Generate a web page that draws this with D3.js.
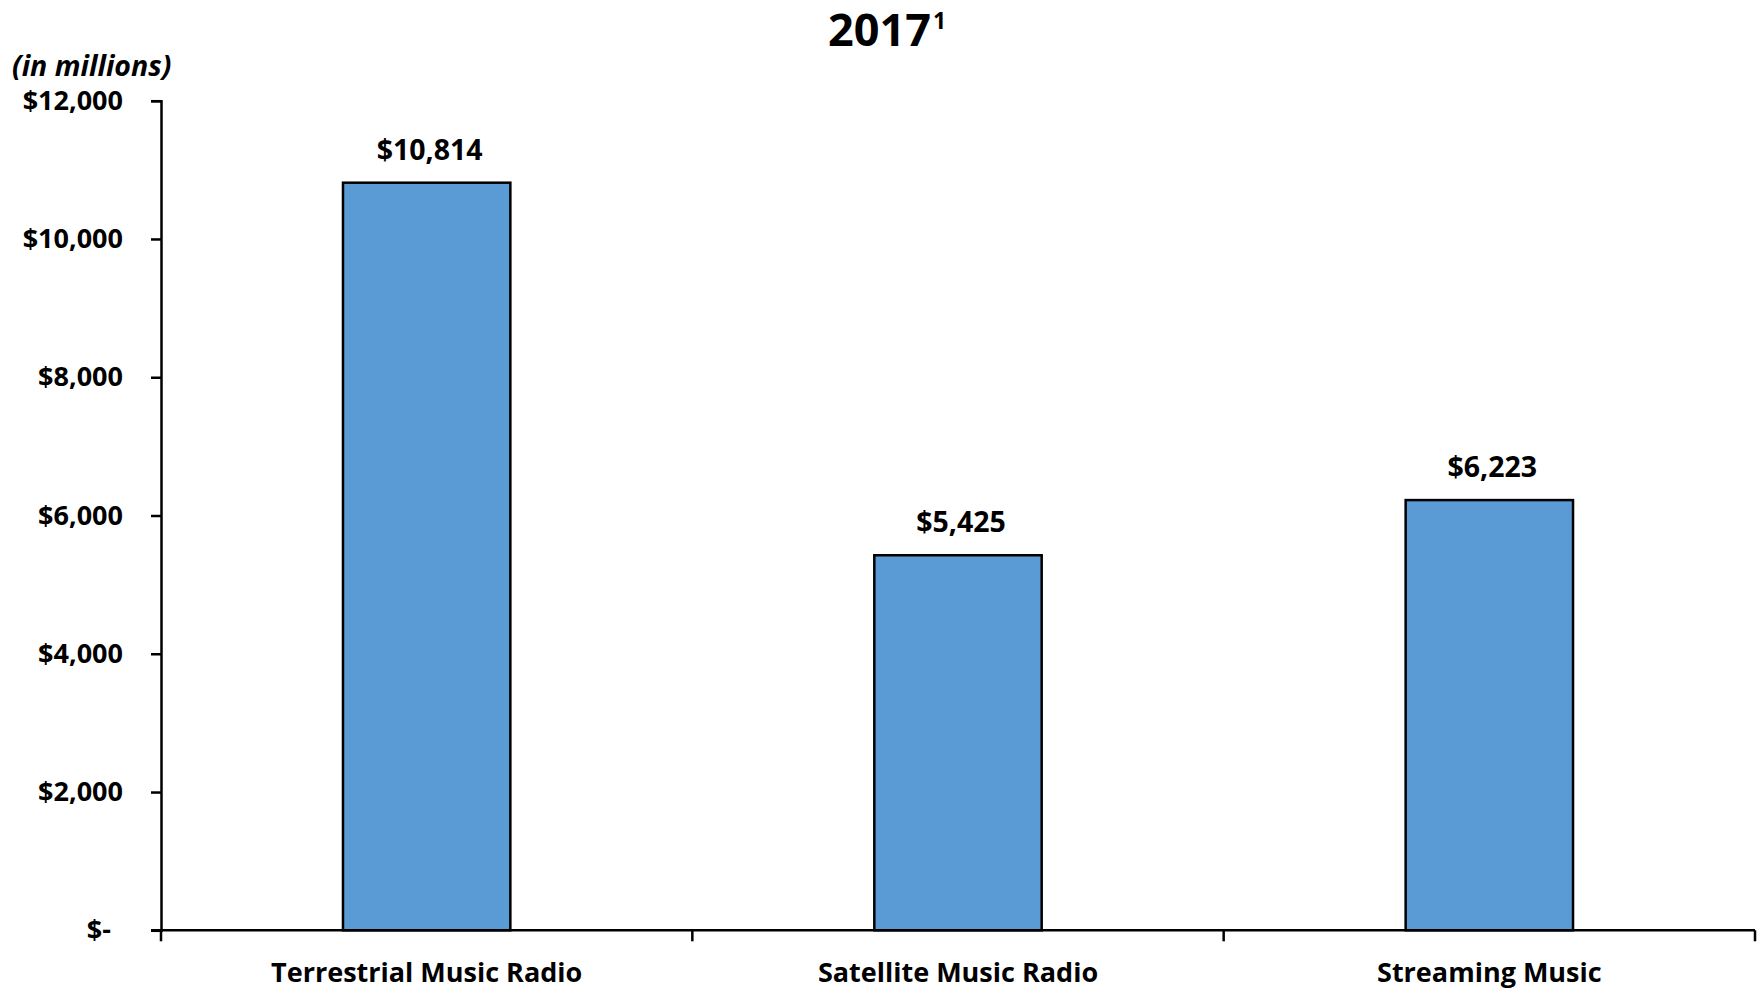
<!DOCTYPE html>
<html>
<head>
<meta charset="utf-8">
<script src="https://cdn.jsdelivr.net/npm/d3@7"></script>
<style>
  html, body { margin: 0; padding: 0; background: #fff; }
  svg { display: block; font-family: "Open Sans", "Liberation Sans", sans-serif; }
</style>
</head>
<body>
<svg id="chart" width="1758" height="990"></svg>
<script>
// Music revenue by delivery platform, in millions of dollars
const categories = ["Terrestrial Music Radio", "Satellite Music Radio", "Streaming Music"];
const revenues = [10814, 5425, 6223];
const yTicks = [0, 2000, 4000, 6000, 8000, 10000, 12000];
const titleText = "2017";
const titleNote = "1";
const unitLabel = "(in millions)";

const svg = d3.select("#chart");
const plot = { left: 161, right: 1755, top: 100.7, bottom: 930.3 };

const x = d3.scaleBand()
  .domain(categories)
  .range([plot.left, plot.right])
  .padding(0);

const y = d3.scaleLinear()
  .domain([0, 12000])
  .range([plot.bottom, plot.top]);

const barWidth = x.bandwidth() * 0.315;
const money = v => v === 0 ? "$-" : "$" + d3.format(",")(v);

// Bars
svg.append("g")
  .selectAll("rect")
  .data(revenues)
  .join("rect")
  .attr("x", (d, i) => x(categories[i]) + (x.bandwidth() - barWidth) / 2)
  .attr("y", d => y(d))
  .attr("width", barWidth)
  .attr("height", d => y(0) - y(d))
  .attr("fill", "#5B9BD5")
  .attr("stroke", "#000")
  .attr("stroke-width", 2.5);

// Value labels above the bars
svg.append("g")
  .selectAll("text")
  .data(revenues)
  .join("text")
  .attr("x", (d, i) => x(categories[i]) + x.bandwidth() / 2 + 3)
  .attr("y", d => y(d) - 23)
  .attr("text-anchor", "middle")
  .attr("font-size", 28.5)
  .attr("font-weight", 700)
  .attr("fill", "#000")
  .text(d => money(d));

// Y axis
const yAxis = d3.axisLeft(y)
  .tickValues(yTicks)
  .tickSize(10)
  .tickPadding(28)
  .tickFormat(money);

const gy = svg.append("g")
  .attr("transform", `translate(${plot.left},0)`)
  .call(yAxis);
gy.select(".domain").attr("stroke", "#000").attr("stroke-width", 2.5);
gy.selectAll(".tick line").attr("stroke", "#000").attr("stroke-width", 2.5);
gy.selectAll(".tick text")
  .attr("font-family", "'Open Sans', sans-serif")
  .attr("font-size", 27)
  .attr("font-weight", 700)
  .attr("fill", "#000")
  .attr("dx", d => d === 0 ? -12 : 0);

// X axis with ticks between categories
const xAxis = d3.axisBottom(x).tickSize(0).tickPadding(33);
const gx = svg.append("g")
  .attr("transform", `translate(0,${plot.bottom})`)
  .call(xAxis);
gx.select(".domain").remove();
gx.selectAll(".tick text")
  .attr("font-family", "'Open Sans', sans-serif")
  .attr("font-size", 27)
  .attr("font-weight", 700)
  .attr("fill", "#000");

gx.append("line")
  .attr("x1", plot.left - 10)
  .attr("x2", plot.right)
  .attr("stroke", "#000")
  .attr("stroke-width", 2.5);

const boundaries = categories.map(c => x(c)).concat([x(categories[categories.length - 1]) + x.bandwidth()]);
gx.selectAll("line.divider")
  .data(boundaries)
  .join("line")
  .attr("class", "divider")
  .attr("x1", d => d).attr("x2", d => d)
  .attr("y1", 0).attr("y2", 11)
  .attr("stroke", "#000")
  .attr("stroke-width", 2.5);

// Title with footnote marker
const title = svg.append("text")
  .attr("x", 828)
  .attr("y", 46)
  .attr("font-size", 45)
  .attr("font-weight", 700)
  .attr("fill", "#000");
title.append("tspan").text(titleText);
title.append("tspan")
  .attr("font-size", 23)
  .attr("dx", 2)
  .attr("dy", -17)
  .text(titleNote);

// Units label
svg.append("text")
  .attr("x", 12)
  .attr("y", 76)
  .attr("font-size", 28.5)
  .attr("font-weight", 700)
  .attr("font-style", "italic")
  .attr("fill", "#000")
  .text(unitLabel);
</script>
</body>
</html>
